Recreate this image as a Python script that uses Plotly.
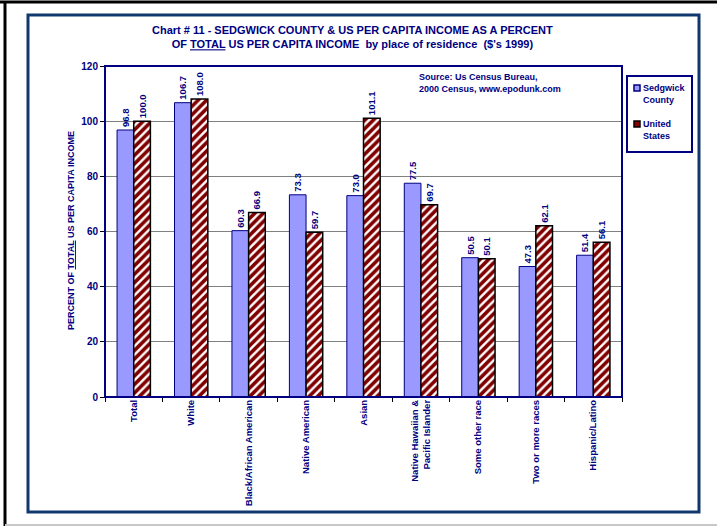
import plotly.graph_objects as go

categories = ["Total", "White", "Black/African American", "Native American", "Asian",
              "Native Hawaiian &<br>Pacific Islander", "Some other race",
              "Two or more races", "Hispanic/Latino"]
sedgwick = [96.8, 106.7, 60.3, 73.3, 73.0, 77.5, 50.5, 47.3, 51.4]
united_states = [100.0, 108.0, 66.9, 59.7, 101.1, 69.7, 50.1, 62.1, 56.1]
y_ticks = [0, 20, 40, 60, 80, 100, 120]

W, H = 717, 526
L, R, T, B = 105, 622, 66, 397
NAVY = "#000080"
FONT = "Liberation Sans, Arial, sans-serif"


def px(x):
    return (x - L) / (R - L)


def py(y):
    return (B - y) / (B - T)


label_font = dict(family=FONT, size=9.5, color=NAVY, weight="bold")

fig = go.Figure()
fig.add_trace(go.Bar(
    x=categories, y=sedgwick, name="Sedgwick County",
    marker=dict(color="#9999FF", line=dict(color=NAVY, width=1)),
    texttemplate="%{y:.1f}", textposition="outside", textangle=-90,
    textfont=label_font, constraintext="none", cliponaxis=False,
))
fig.add_trace(go.Bar(
    x=categories, y=united_states, name="United States",
    marker=dict(color="white", line=dict(color="black", width=1.5),
                pattern=dict(shape="/", fgcolor="#800000", bgcolor="white",
                             fgopacity=1, fillmode="replace",
                             size=6, solidity=0.6)),
    texttemplate="%{y:.1f}", textposition="outside", textangle=-90,
    textfont=label_font, constraintext="none", cliponaxis=False,
))

shapes = [
    # outer page lines
    dict(type="line", xref="paper", yref="paper", x0=px(0), x1=px(W), y0=py(2), y1=py(2),
         line=dict(color="black", width=3)),
    dict(type="line", xref="paper", yref="paper", x0=px(5), x1=px(5), y0=py(2), y1=py(W),
         line=dict(color="black", width=3)),
    dict(type="line", xref="paper", yref="paper", x0=px(5), x1=px(W), y0=py(525), y1=py(525),
         line=dict(color="#C8C8C8", width=2)),
    # chart frame
    dict(type="rect", xref="paper", yref="paper", x0=px(28), x1=px(699), y0=py(512), y1=py(15),
         line=dict(color="#10386E", width=3)),
    # plot area border
    dict(type="rect", xref="paper", yref="paper", x0=0, x1=1, y0=0, y1=1,
         line=dict(color=NAVY, width=2), layer="above"),
    # legend box
    dict(type="rect", xref="paper", yref="paper", x0=px(627), x1=px(692), y0=py(152), y1=py(76),
         line=dict(color=NAVY, width=2)),
    dict(type="rect", xref="paper", yref="paper", x0=px(634), x1=px(640), y0=py(91), y1=py(85),
         fillcolor="#9999FF", line=dict(color=NAVY, width=1.5)),
    dict(type="rect", xref="paper", yref="paper", x0=px(634), x1=px(640), y0=py(127), y1=py(121),
         fillcolor="#8B0000", line=dict(color="black", width=1.5)),
]

small_bold = dict(family=FONT, size=9, color=NAVY, weight="bold")
annotations = [
    dict(text="Chart # 11 - SEDGWICK COUNTY & US PER CAPITA INCOME AS A PERCENT<br>"
              "OF <u>TOTAL</u> US PER CAPITA INCOME  by place of residence  ($'s 1999)",
         xref="paper", yref="paper", x=px(352), y=py(37), xanchor="center", yanchor="middle",
         showarrow=False, font=dict(family=FONT, size=11, color=NAVY, weight="bold"),
         align="center"),
    dict(text="Source: Us Census Bureau,<br>2000 Census, www.epodunk.com",
         xref="paper", yref="paper", x=px(417), y=py(83), xanchor="left", yanchor="middle",
         showarrow=False, font=small_bold, align="left"),
    dict(text="PERCENT OF <u>TOTAL</u> US PER CAPITA INCOME",
         xref="paper", yref="paper", x=px(71), y=py(231), xanchor="center", yanchor="middle",
         textangle=-90, showarrow=False, font=small_bold),
    dict(text="Sedgwick<br>County", xref="paper", yref="paper", x=px(641), y=py(94),
         xanchor="left", yanchor="middle", showarrow=False, align="left", font=small_bold),
    dict(text="United<br>States", xref="paper", yref="paper", x=px(641), y=py(130),
         xanchor="left", yanchor="middle", showarrow=False, align="left", font=small_bold),
]

fig.update_layout(
    width=W, height=H,
    margin=dict(l=L, r=W - R, t=T, b=H - B, pad=0),
    paper_bgcolor="white", plot_bgcolor="white",
    showlegend=False, barmode="group", bargap=0.42, bargroupgap=0,
    shapes=shapes, annotations=annotations,
    font=dict(family=FONT, color=NAVY),
)
fig.update_yaxes(range=[0, 120], tickvals=y_ticks, ticks="outside", ticklen=4,
                 tickcolor="black", showgrid=True, gridcolor="#808080", gridwidth=1,
                 zeroline=False, showline=False,
                 tickfont=dict(family=FONT, size=10, color=NAVY, weight="bold"))
fig.update_xaxes(tickangle=-90, ticks="outside", tickson="boundaries", ticklen=4,
                 tickcolor="black", showline=False,
                 tickfont=dict(family=FONT, size=9.5, color=NAVY, weight="bold"))

fig.write_html("out.html", config={"displayModeBar": False},
               post_script="document.body.style.margin='0';document.body.style.padding='0';")
